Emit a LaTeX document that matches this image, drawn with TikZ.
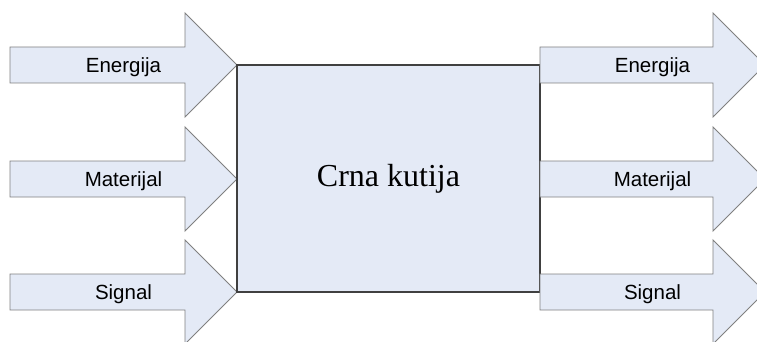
\documentclass[tikz,border=0pt]{standalone}
\usepackage{fontspec}
\setmainfont{Liberation Serif}
\newfontfamily\arialfont{Liberation Sans}
\definecolor{fillblue}{RGB}{228,234,246}
\definecolor{arrowline}{RGB}{128,128,128}
\definecolor{boxline}{RGB}{64,64,64}
\tikzset{
  flowarrow/.style={draw=arrowline, fill=fillblue, line width=0.9pt, line join=miter},
  blackbox/.style={draw=boxline, fill=fillblue, line width=1.2pt, inner sep=0pt,
    minimum width=303pt, minimum height=227pt, font=\fontsize{32}{38}\selectfont},
  flowlabel/.style={anchor=base, inner sep=0pt, font=\arialfont\fontsize{20.5}{24}\selectfont}
}
\begin{document}
\begin{tikzpicture}[x=1pt, y=-1pt]
\useasboundingbox (0,0) rectangle (757,342);
\clip (0,0) rectangle (757,342);
% input arrows
\foreach \c/\t/\n in {65/Energija/inE, 179/Materijal/inM, 292/Signal/inS}{
  \draw[flowarrow] (10,\c-18) -- (185,\c-18) -- (185,\c-52) -- (237,\c)
    -- (185,\c+52) -- (185,\c+18) -- (10,\c+18) -- cycle;
  \node[flowlabel] (\n) at (123.5,\c+7.5) {\t};
}
% black box
\node[blackbox] (box) at (388.5,178.5) {Crna kutija};
% output arrows
\foreach \c/\t/\n in {65/Energija/outE, 179/Materijal/outM, 292/Signal/outS}{
  \draw[flowarrow] (540,\c-18) -- (713,\c-18) -- (713,\c-52) -- (765,\c)
    -- (713,\c+52) -- (713,\c+18) -- (540,\c+18) -- cycle;
  \node[flowlabel] (\n) at (652.5,\c+7.5) {\t};
}
\end{tikzpicture}
\end{document}
